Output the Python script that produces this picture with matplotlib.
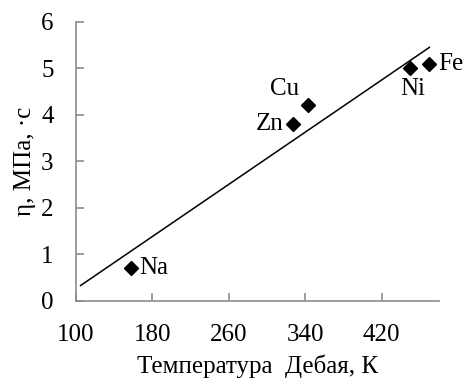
import numpy as np
import matplotlib
matplotlib.use("Agg")
import matplotlib.pyplot as plt

plt.rcParams['font.family'] = ['Liberation Serif', 'DejaVu Serif']

# Debye temperature (K) vs viscosity
elements = ["Na", "Zn", "Cu", "Ni", "Fe"]
debye_t = [158, 327, 343, 450, 470]
eta = [0.7, 3.8, 4.2, 5.0, 5.1]
x_ticks = [100, 180, 260, 340, 420]
y_ticks = [0, 1, 2, 3, 4, 5, 6]

# label offsets in pixels and alignment
offsets = {"Na": (8, 0, "left"), "Zn": (-9, 0, "right"), "Cu": (-23, 16, "center"),
           "Ni": (2, -21, "center"), "Fe": (9, 0, "left")}

fs = 18
dpi = 100
fig = plt.figure(figsize=(4.68, 3.83), dpi=dpi)
ax = fig.add_axes([0.162, 0.215, 0.776, 0.728])

# linear trendline
k, b = np.polyfit(debye_t, eta, 1)
xs = np.array([105, max(debye_t)])
ax.plot(xs, k * xs + b, color="black", lw=1.1)

ax.plot(debye_t, eta, "D", color="black", markersize=7, ls="none")

for name, xv, yv in zip(elements, debye_t, eta):
    dx, dy, ha = offsets[name]
    ax.annotate(name, (xv, yv), xytext=(dx, dy), textcoords="offset pixels",
                ha=ha, va="center", fontsize=fs)

ax.set_xlim(100, 480)
ax.set_ylim(0, 6)
ax.set_xticks(x_ticks)
ax.set_yticks(y_ticks)
for s in ["top", "right"]:
    ax.spines[s].set_visible(False)
for s in ["left", "bottom"]:
    ax.spines[s].set_color("#8c8c8c")
    ax.spines[s].set_linewidth(1.2)
ax.tick_params(direction="in", length=6, color="#8c8c8c", width=1.2, labelsize=fs)
ax.tick_params(axis="x", pad=17)
ax.tick_params(axis="y", pad=16)

ax.set_xlabel("Температура  Дебая, К", fontsize=fs, labelpad=6)
ax.set_ylabel("η, МПа, ·с", fontsize=fs, labelpad=4)

fig.savefig("out.png", dpi=dpi)
